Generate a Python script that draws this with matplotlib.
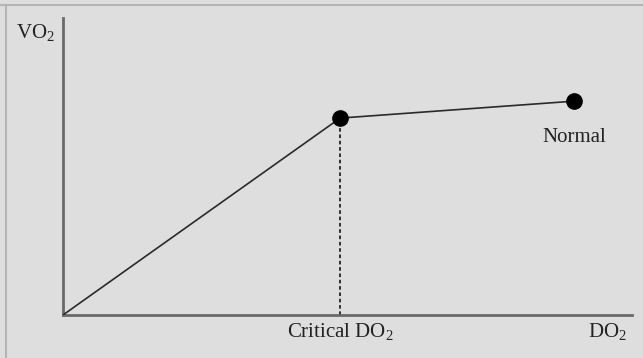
import matplotlib
matplotlib.use("Agg")
import matplotlib.pyplot as plt
from matplotlib.lines import Line2D

plt.rcParams["font.family"] = ["Liberation Serif", "DejaVu Serif"]
plt.rcParams["mathtext.fontset"] = "custom"
plt.rcParams["mathtext.rm"] = "Liberation Serif"
plt.rcParams["mathtext.it"] = "Liberation Serif"

# Oxygen delivery (DO2) vs consumption (VO2), relative units
do2 = [0.0, 0.487, 0.898]
vo2 = [0.0, 0.663, 0.720]
point_labels = ["", "", "Normal"]
critical_label = "Critical DO$_2$"
x_label = "DO$_2$"
y_label = "VO$_2$"

bg = "#dedede"
fs = 15
fig = plt.figure(figsize=(6.43, 3.58), dpi=100, facecolor=bg)
ax = fig.add_axes([63 / 643, 1 - 315 / 358, 569 / 643, 297 / 358])
ax.set_facecolor(bg)
ax.set_xlim(0, 1)
ax.set_ylim(0, 1)

for side in ["top", "right"]:
    ax.spines[side].set_visible(False)
for side in ["left", "bottom"]:
    ax.spines[side].set_color("#6a6a6a")
    ax.spines[side].set_linewidth(2)
ax.set_xticks([])
ax.set_yticks([])

# curve
ax.plot(do2, vo2, color="#2a2a2a", lw=1.2, zorder=3)
ax.plot(do2[1:], vo2[1:], "o", color="black", ms=11, zorder=4)

# dashed drop line at critical DO2
ax.plot([do2[1], do2[1]], [0, vo2[1]], color="#222222", lw=1.3,
        ls=(0, (2, 1.5)), zorder=2)

ax.text(do2[2], vo2[2] - 0.1375, point_labels[2], ha="center",
        va="baseline", fontsize=fs, color="#222222")
ax.text(do2[1], -0.074, critical_label, ha="center", va="baseline",
        fontsize=fs, color="#222222", clip_on=False)
ax.text(0.956, -0.074, x_label, ha="center", va="baseline",
        fontsize=fs, color="#222222", clip_on=False)
fig.text(35 / 643, 1 - 38 / 358, y_label, ha="center", va="baseline",
         fontsize=fs, color="#222222")

# frame lines of the original image (top and left)
fig.add_artist(Line2D([0, 1], [1 - 5 / 358] * 2, color="#b4b4b4", lw=1.5,
                      transform=fig.transFigure))
fig.add_artist(Line2D([6 / 643] * 2, [0, 1 - 5 / 358], color="#b4b4b4", lw=1.5,
                      transform=fig.transFigure))

fig.savefig("out.png", dpi=100, facecolor=bg)
